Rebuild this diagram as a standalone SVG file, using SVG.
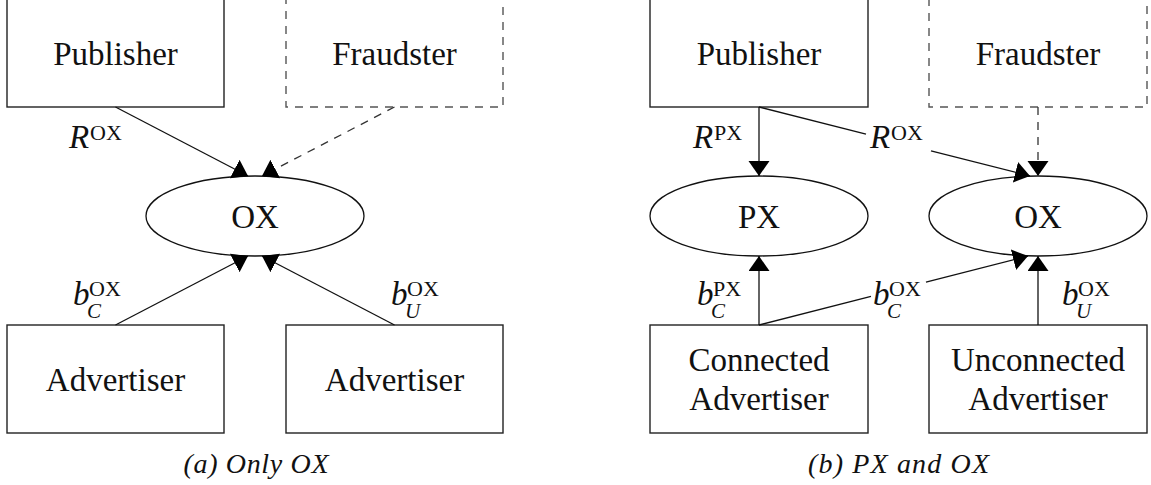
<svg xmlns="http://www.w3.org/2000/svg" width="1151" height="485" viewBox="0 0 1151 485">
<style>
.box{fill:#fff;stroke:#222;stroke-width:1.4}
.dbox{fill:#fff;stroke:#555;stroke-width:1.4;stroke-dasharray:8 7}
.ell{fill:#fff;stroke:#111;stroke-width:1.3}
.t{font-family:"Liberation Serif","Times New Roman",serif;font-size:33px;fill:#111;text-anchor:middle}
.m{font-family:"Liberation Serif","Times New Roman",serif;font-size:33px;font-style:italic;fill:#111}
.sup{font-size:22px;font-style:normal}
.sub{font-size:21px;font-style:italic}
.cap{font-family:"Liberation Serif","Times New Roman",serif;font-size:28px;font-style:italic;fill:#111;text-anchor:middle}
.e{fill:none;stroke:#111;stroke-width:1.3}
.de{fill:none;stroke:#333;stroke-width:1.3;stroke-dasharray:8 7}
</style>
<defs>
<marker id="arr" markerUnits="userSpaceOnUse" markerWidth="17" markerHeight="22" refX="15" refY="10.5" orient="auto">
<path d="M0,0 L15,10.5 L0,21 z" fill="#000"/>
</marker>
</defs>
<g id="panel-a">
<g id="a-publisher"><rect class="box" x="7" y="-1" width="217" height="108"/><text class="t" x="115.5" y="65">Publisher</text></g>
<g id="a-fraudster"><rect class="dbox" x="286" y="-1" width="217" height="108"/><text class="t" x="394.5" y="65">Fraudster</text></g>
<g id="a-ox"><ellipse class="ell" cx="255" cy="216" rx="109" ry="40"/><text class="t" x="255" y="228">OX</text></g>
<g id="a-adv1"><rect class="box" x="7" y="325" width="217" height="108"/><text class="t" x="115.5" y="391">Advertiser</text></g>
<g id="a-adv2"><rect class="box" x="286" y="325" width="217" height="108"/><text class="t" x="394.5" y="391">Advertiser</text></g>
<text class="cap" x="256" y="473" textLength="145" lengthAdjust="spacing">(a) Only OX</text>
</g>
<g id="panel-b">
<g id="b-publisher"><rect class="box" x="650" y="-1" width="218" height="108"/><text class="t" x="759" y="65">Publisher</text></g>
<g id="b-fraudster"><rect class="dbox" x="929" y="-1" width="218" height="108"/><text class="t" x="1038" y="65">Fraudster</text></g>
<g id="b-px"><ellipse class="ell" cx="759" cy="216" rx="109" ry="40"/><text class="t" x="759" y="228">PX</text></g>
<g id="b-ox"><ellipse class="ell" cx="1038" cy="216" rx="109" ry="40"/><text class="t" x="1038" y="228">OX</text></g>
<g id="b-conn"><rect class="box" x="650" y="325" width="218" height="108"/><text class="t" x="759" y="371">Connected</text><text class="t" x="759" y="410">Advertiser</text></g>
<g id="b-unconn"><rect class="box" x="929" y="325" width="218" height="108"/><text class="t" x="1038" y="371">Unconnected</text><text class="t" x="1038" y="410">Advertiser</text></g>
<text class="cap" x="898.5" y="473" textLength="181" lengthAdjust="spacing">(b) PX and OX</text>
</g>
<g id="connectors">
<path class="e" d="M115.5,107 L248,176" marker-end="url(#arr)"/>
<path class="de" d="M394.5,107 L262,176" marker-end="url(#arr)"/>
<path class="e" d="M115.5,325 L248,256" marker-end="url(#arr)"/>
<path class="e" d="M394.5,325 L262,256" marker-end="url(#arr)"/>
<text class="m" x="69" y="148">R<tspan class="sup" x="90" dy="-8">OX</tspan></text>
<text class="m" x="73" y="305">b<tspan class="sup" x="89" dy="-9">OX</tspan><tspan class="sub" x="87" dy="22">C</tspan></text>
<text class="m" x="391" y="305">b<tspan class="sup" x="407" dy="-9">OX</tspan><tspan class="sub" x="405" dy="22">U</tspan></text>

<path class="e" d="M759,107 L759,176" marker-end="url(#arr)"/>
<path class="e" d="M759,107 L866,134.2"/>
<path class="e" d="M931,150.8 L1030,176" marker-end="url(#arr)"/>
<path class="de" d="M1038,107 L1038,176" marker-end="url(#arr)"/>
<path class="e" d="M759,325 L759,256" marker-end="url(#arr)"/>
<path class="e" d="M759,325 L871,296.3"/>
<path class="e" d="M926,282.2 L1028,256" marker-end="url(#arr)"/>
<path class="e" d="M1038,325 L1038,256" marker-end="url(#arr)"/>
<text class="m" x="693" y="148">R<tspan class="sup" x="714" dy="-8">PX</tspan></text>
<text class="m" x="870" y="148">R<tspan class="sup" x="891" dy="-8">OX</tspan></text>
<text class="m" x="697" y="305">b<tspan class="sup" x="713" dy="-9">PX</tspan><tspan class="sub" x="711" dy="22">C</tspan></text>
<text class="m" x="873" y="305">b<tspan class="sup" x="889" dy="-9">OX</tspan><tspan class="sub" x="887" dy="22">C</tspan></text>
<text class="m" x="1062" y="305">b<tspan class="sup" x="1078" dy="-9">OX</tspan><tspan class="sub" x="1076" dy="22">U</tspan></text>
</g>
</svg>
